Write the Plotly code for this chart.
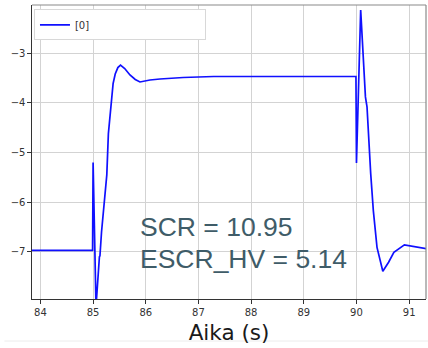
import plotly.graph_objects as go

# Time (s) and signal values
time_s = [83.84, 84.99, 85.00, 85.055, 85.12, 85.13, 85.16, 85.26, 85.29, 85.35, 85.38,
          85.42, 85.47, 85.52, 85.60, 85.70, 85.80, 85.89, 86.08, 86.27, 86.71, 87.29, 89.99,
          90.00, 90.08, 90.17, 90.20, 90.27, 90.30, 90.32, 90.39, 90.50, 90.61, 90.71,
          90.91, 91.09, 91.34]
values = [-6.97, -6.97, -5.20, -8.10, -7.10, -7.08, -6.60, -5.45, -4.62, -3.95, -3.61,
          -3.42, -3.29, -3.24, -3.31, -3.44, -3.53, -3.58, -3.54, -3.52, -3.49, -3.47, -3.47,
          -5.21, -2.13, -3.88, -4.08, -5.42, -5.97, -6.17, -6.91, -7.39, -7.21, -7.01,
          -6.86, -6.90, -6.94]

series_name = "[0]"
x_ticks = [84, 85, 86, 87, 88, 89, 90, 91]
y_ticks = [-3, -4, -5, -6, -7]
x_range = [83.84, 91.32]
y_range = [-7.95, -2.03]
annot_lines = ["SCR = 10.95", "ESCR_HV = 5.14"]
x_title = "Aika (s)"

fig = go.Figure()
fig.add_trace(go.Scatter(x=time_s, y=values, mode="lines", name=series_name,
                         line=dict(color="#1010ff", width=1.7)))

fig.update_layout(
    width=428, height=348,
    margin=dict(l=32, r=2, t=5, b=49, autoexpand=False),
    paper_bgcolor="white", plot_bgcolor="white",
    showlegend=True,
    legend=dict(x=0.005, y=0.985, xanchor="left", yanchor="top",
                bgcolor="white", bordercolor="#d8d8d8", borderwidth=1,
                font=dict(family="DejaVu Sans", size=10, color="#333333"),
                orientation="h", entrywidth=125, itemwidth=30,
                tracegroupgap=0),
    font=dict(family="DejaVu Sans", size=10, color="#333333"),
)

fig.update_xaxes(range=x_range, tickvals=x_ticks, ticktext=[str(v) for v in x_ticks],
                 automargin=False,
                 showgrid=True, gridcolor="#d3d3d3", gridwidth=1,
                 showline=True, linecolor="#333333", linewidth=1.2,
                 ticks="outside", ticklen=3.5, tickcolor="#333333",
                 tickfont=dict(family="DejaVu Sans", size=10, color="#333333"),
                 zeroline=False,
                 title=dict(text=x_title, standoff=8,
                            font=dict(family="DejaVu Sans", size=21.5, color="#1a1a1a")))
fig.update_yaxes(range=y_range, tickvals=y_ticks, automargin=False,
                 showgrid=True, gridcolor="#d3d3d3", gridwidth=1,
                 showline=True, linecolor="#333333", linewidth=1.2,
                 ticks="outside", ticklen=3.5, tickcolor="#333333",
                 tickfont=dict(family="DejaVu Sans", size=10, color="#333333"),
                 zeroline=False)

# lighter top and right spines
fig.add_shape(type="line", xref="paper", yref="paper", x0=0, x1=1, y0=1, y1=1,
              line=dict(color="#8a8a8a", width=1.2))
fig.add_shape(type="line", xref="paper", yref="paper", x0=1, x1=1, y0=0, y1=1,
              line=dict(color="#8a8a8a", width=1.2))
# faint separator line at the bottom of the image
fig.add_shape(type="line", xref="paper", yref="paper", x0=-0.07, x1=1.01, y0=-0.143, y1=-0.143,
              line=dict(color="#ececec", width=1))

fig.add_annotation(x=85.86, y=-6.51, xref="x", yref="y", text=annot_lines[0],
                   showarrow=False, xanchor="left", yanchor="middle",
                   font=dict(family="Liberation Sans", size=26.5, color="#3f5c68"))
fig.add_annotation(x=85.86, y=-7.15, xref="x", yref="y", text=annot_lines[1],
                   showarrow=False, xanchor="left", yanchor="middle",
                   font=dict(family="Liberation Sans", size=26.5, color="#3f5c68"))

fig.write_html("out.html", config={"displayModeBar": False},
               post_script="document.body.style.margin='0';document.body.style.padding='0';")
